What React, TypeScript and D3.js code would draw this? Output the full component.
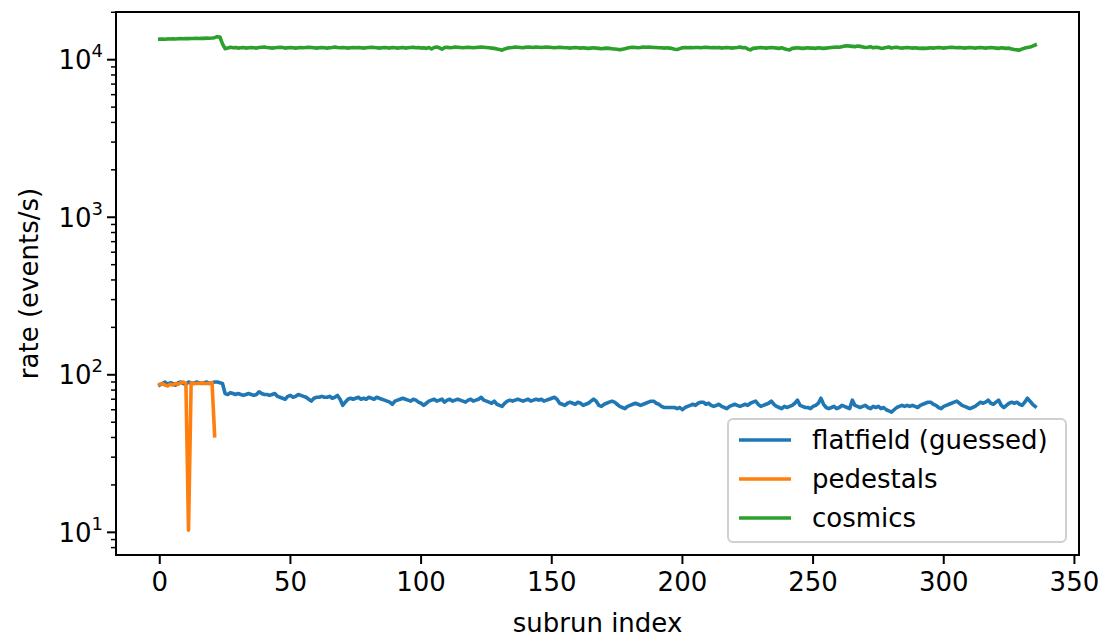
import React, { useRef, useEffect } from 'react';
import * as d3 from 'd3';

// subrun rates (events/s)
const flatfield: number[] = [
  86, 88, 90, 87, 89, 88, 86, 89, 90, 88,
  87, 90, 89, 88, 90, 89, 88, 89, 90, 88,
  89, 90, 90, 89, 88,
  76, 75, 77, 76, 75, 76, 75, 74, 75, 76,
  75, 74, 75, 78, 76, 75, 75, 74, 75, 76,
  73, 72, 71, 70, 73, 74, 72, 73, 75, 74,
  73, 72, 70, 68, 71, 72, 72, 73, 72, 72,
  73, 71, 72, 74, 70, 64, 67, 70, 71, 70,
  71, 72, 70, 71, 70, 72, 71, 70, 72, 71,
  70, 69, 68, 67, 65, 68, 69, 70, 71, 70,
  69, 68, 70, 69, 67, 66, 64, 66, 68, 69,
  70, 68, 69, 70, 67, 69, 70, 68, 69, 70,
  69, 68, 67, 69, 70, 68, 69, 70, 72, 69,
  68, 67, 66, 68, 65, 64, 63, 66, 68, 69,
  68, 69, 70, 69, 68, 69, 70, 68, 69, 70,
  69, 70, 68, 69, 70, 71, 72, 70, 66, 65,
  64, 66, 67, 66, 65, 67, 66, 64, 65, 66,
  68, 70, 68, 64, 63, 65, 66, 67, 68, 67,
  65, 63, 62, 61, 63, 64, 65, 66, 65, 64,
  65, 66, 67, 68, 68, 66, 65, 63, 62, 62,
  62, 62, 62, 61, 62, 60, 62, 63, 64, 65,
  64, 66, 67, 67, 65, 66, 64, 63, 64, 65,
  63, 62, 61, 63, 64, 65, 64, 63, 64, 65,
  64, 66, 67, 68, 65, 63, 64, 65, 66, 68,
  65, 63, 62, 61, 63, 62, 63, 64, 66, 69,
  64, 63, 62, 62, 61, 63, 64, 66, 71, 65,
  62, 61, 62, 63, 61, 62, 64, 63, 62, 61,
  69, 64, 63, 62, 63, 64, 62, 61, 63, 62,
  63, 61, 62, 60, 59, 58, 60, 62, 63, 64,
  63, 64, 63, 64, 63, 62, 64, 65, 66, 67,
  67, 65, 64, 62, 61, 63, 64, 65, 66, 67,
  68, 66, 64, 63, 62, 61, 62, 63, 65, 67,
  66, 67, 69, 66, 65, 67, 69, 64, 62, 64,
  66, 67, 66, 67, 65, 64, 67, 71, 68, 65, 63,
];

const pedestals: number[] = [
  87, 88, 86, 85, 87, 86, 88, 87, 89, 90, 88, 10.3,
  89, 88, 88, 88, 89, 88, 88, 88, 89, 41,
];

const cosmics: number[] = [
  13500, 13520, 13480, 13550, 13530, 13560, 13540, 13580, 13600, 13570,
  13620, 13600, 13640, 13620, 13660, 13640, 13680, 13650, 13700, 13680,
  13720, 13800, 14000, 13950, 12600, 11750,
  11850, 12000, 11900, 11950, 11850, 11900, 11950, 11850, 11900, 11950,
  11900, 11850, 11950, 12000, 12050, 11950, 11900, 11850, 11900, 11950,
  12000, 11950, 11850, 11900, 11950, 11900, 11850, 11900, 11950, 11900,
  11950, 12000, 11950, 11900, 11850, 11900, 11950, 11900, 11850, 11900,
  11950, 12050, 11950, 11900, 11950, 11900, 11850, 11900, 11950, 11900,
  11950, 11900, 11850, 11900, 11950, 12000, 11950, 11900, 11850, 11900,
  11950, 11900, 11850, 11950, 11900, 11850, 11900, 11950, 11850, 11900,
  11950, 12000, 11900, 11950, 11850, 11900, 11800, 11950, 11700, 11950,
  12050, 11900, 11650, 11950, 12000, 11900, 11950, 12050, 12000, 11950,
  11900, 11950, 12000, 11950, 11900, 11950, 12000, 12050, 12000, 11950,
  11900, 11850, 11800, 11700, 11600, 11500, 11700, 11850, 11900, 11950,
  12050, 12000, 11950, 11900, 12000, 12050, 12000, 11950, 12050, 12000,
  11950, 12000, 12050, 12000, 11950, 11900, 11950, 12000, 11950, 11900,
  11900, 11850, 11900, 11950, 11900, 11850, 11900, 11850, 11800, 11850,
  11900, 11850, 11800, 11750, 11800, 11850, 11800, 11750, 11700, 11650,
  11550, 11650, 11750, 11850, 11950, 12000, 11950, 11900, 11950, 12050,
  12000, 12050, 12000, 11950, 11950, 11900, 11900, 11850, 11900, 11850,
  11800, 11650, 11600, 11750, 11900, 11950, 11900, 11950, 11900, 11950,
  11950, 11900, 11950, 12000, 11950, 11900, 11950, 11900, 11950, 11850,
  11900, 11950, 11900, 11850, 11900, 11950, 12050, 11900, 11950, 11700,
  11550, 11800, 11850, 11900, 11950, 11900, 11850, 11900, 11950, 11900,
  11850, 11800, 11900, 11750, 11600, 11550, 11800, 11850, 11900, 11850,
  11800, 11850, 11900, 11850, 11850, 11800, 11900, 11850, 11800, 11850,
  11900, 11950, 12000, 12050, 12000, 12100, 12200, 12250, 12200, 12150,
  12100, 12200, 12150, 12050, 11950, 12000, 12100, 11900, 12000, 11950,
  11800, 11850, 11950, 12050, 11850, 11950, 12000, 11900, 11850, 11900,
  11950, 11900, 11850, 11900, 11850, 11800, 11850, 11800, 11850, 11900,
  11850, 11900, 11950, 11900, 11850, 11900, 11950, 12000, 11950, 11900,
  11950, 11900, 11850, 11900, 11950, 11900, 11850, 11900, 11950, 11900,
  11850, 11900, 11950, 11900, 11850, 11800, 11900, 11850, 11800, 11850,
  11700, 11600, 11550, 11500, 11700, 11850, 11950, 12050, 12200, 12400,
];

const seriesNames = ['flatfield (guessed)', 'pedestals', 'cosmics'];
const seriesColors = ['#1f77b4', '#ff7f0e', '#2ca02c'];
const xTicks = [0, 50, 100, 150, 200, 250, 300, 350];
const yTicks = [10, 100, 1000, 10000];

const FONT = 'DejaVu Sans, sans-serif';

const App: React.FC = () => {
  const svgRef = useRef<SVGSVGElement>(null);

  useEffect(() => {
    if (!svgRef.current) return;
    d3.select(svgRef.current).selectAll('*').remove();

    const W = 1106, H = 639;
    const margin = { top: 12, right: 27, bottom: 84, left: 116 };
    const width = W - margin.left - margin.right;
    const height = H - margin.top - margin.bottom;

    const svg = d3.select(svgRef.current).attr('width', W).attr('height', H);
    const g = svg.append('g').attr('transform', `translate(${margin.left},${margin.top})`);

    // matplotlib style 5% margins
    const xMax = flatfield.length - 1;
    const xPad = xMax * 0.05;
    const xScale = d3.scaleLinear().domain([-xPad, xMax + xPad]).range([0, width]);

    const allVals = [...flatfield, ...pedestals, ...cosmics];
    const lmin = Math.log10(d3.min(allVals)!);
    const lmax = Math.log10(d3.max(allVals)!);
    const lpad = (lmax - lmin) * 0.05;
    const yScale = d3.scaleLog()
      .domain([Math.pow(10, lmin - lpad), Math.pow(10, lmax + lpad)])
      .range([height, 0]);

    const line = d3.line<number>()
      .x((d, i) => xScale(i))
      .y(d => yScale(d));

    const clip = svg.append('defs').append('clipPath').attr('id', 'plotclip');
    clip.append('rect').attr('width', width).attr('height', height);

    const plot = g.append('g').attr('clip-path', 'url(#plotclip)');
    [flatfield, pedestals, cosmics].forEach((s, k) => {
      plot.append('path')
        .datum(s)
        .attr('d', line)
        .attr('fill', 'none')
        .attr('stroke', seriesColors[k])
        .attr('stroke-width', 3.6)
        .attr('stroke-linejoin', 'round')
        .attr('stroke-linecap', 'square');
    });

    // x ticks
    xTicks.forEach(t => {
      const x = xScale(t);
      g.append('line')
        .attr('x1', x).attr('x2', x)
        .attr('y1', height).attr('y2', height + 9)
        .attr('stroke', '#000').attr('stroke-width', 2);
      g.append('text')
        .attr('x', x).attr('y', height + 36)
        .attr('text-anchor', 'middle')
        .attr('font-family', FONT).attr('font-size', 26)
        .text(t);
    });

    // y major ticks
    yTicks.forEach(t => {
      const y = yScale(t);
      g.append('line')
        .attr('x1', -9).attr('x2', 0)
        .attr('y1', y).attr('y2', y)
        .attr('stroke', '#000').attr('stroke-width', 2);
      const txt = g.append('text')
        .attr('x', -13).attr('y', y + 9.5)
        .attr('text-anchor', 'end')
        .attr('font-family', FONT).attr('font-size', 26);
      txt.append('tspan').text('10');
      txt.append('tspan')
        .attr('font-size', 18)
        .attr('dy', -12)
        .text(String(Math.round(Math.log10(t))));
    });

    // y minor ticks
    const [d0, d1] = yScale.domain();
    for (let e = 0; e <= 4; e++) {
      for (let m = 2; m <= 9; m++) {
        const v = m * Math.pow(10, e);
        if (v < d0 || v > d1) continue;
        const y = yScale(v);
        g.append('line')
          .attr('x1', -5).attr('x2', 0)
          .attr('y1', y).attr('y2', y)
          .attr('stroke', '#000').attr('stroke-width', 1.5);
      }
    }

    // frame
    g.append('rect')
      .attr('width', width).attr('height', height)
      .attr('fill', 'none').attr('stroke', '#000').attr('stroke-width', 2);

    // axis labels
    svg.append('text')
      .attr('x', margin.left + width / 2).attr('y', 632)
      .attr('text-anchor', 'middle')
      .attr('font-family', FONT).attr('font-size', 26)
      .text('subrun index');

    svg.append('text')
      .attr('transform', `translate(38,${margin.top + height / 2}) rotate(-90)`)
      .attr('text-anchor', 'middle')
      .attr('font-family', FONT).attr('font-size', 26)
      .text('rate (events/s)');

    // legend, lower right
    const lgW = 338, lgH = 123;
    const lgX = margin.left + width - 13 - lgW;
    const lgY = margin.top + height - 13 - lgH;
    const legend = svg.append('g').attr('transform', `translate(${lgX},${lgY})`);
    legend.append('rect')
      .attr('width', lgW).attr('height', lgH)
      .attr('rx', 5).attr('ry', 5)
      .attr('fill', '#fff').attr('fill-opacity', 0.8)
      .attr('stroke', '#d0d0d0').attr('stroke-width', 2);

    seriesNames.forEach((name, i) => {
      const cy = 21 + i * 39;
      legend.append('line')
        .attr('x1', 11).attr('x2', 63)
        .attr('y1', cy).attr('y2', cy)
        .attr('stroke', seriesColors[i]).attr('stroke-width', 3.6);
      legend.append('text')
        .attr('x', 84).attr('y', cy + 9)
        .attr('font-family', FONT).attr('font-size', 26)
        .text(name);
    });
  }, []);

  return (
    <svg
      ref={svgRef}
      style={{ position: 'absolute', left: 0, top: 0, background: '#fff' }}
    />
  );
};

export default App;
